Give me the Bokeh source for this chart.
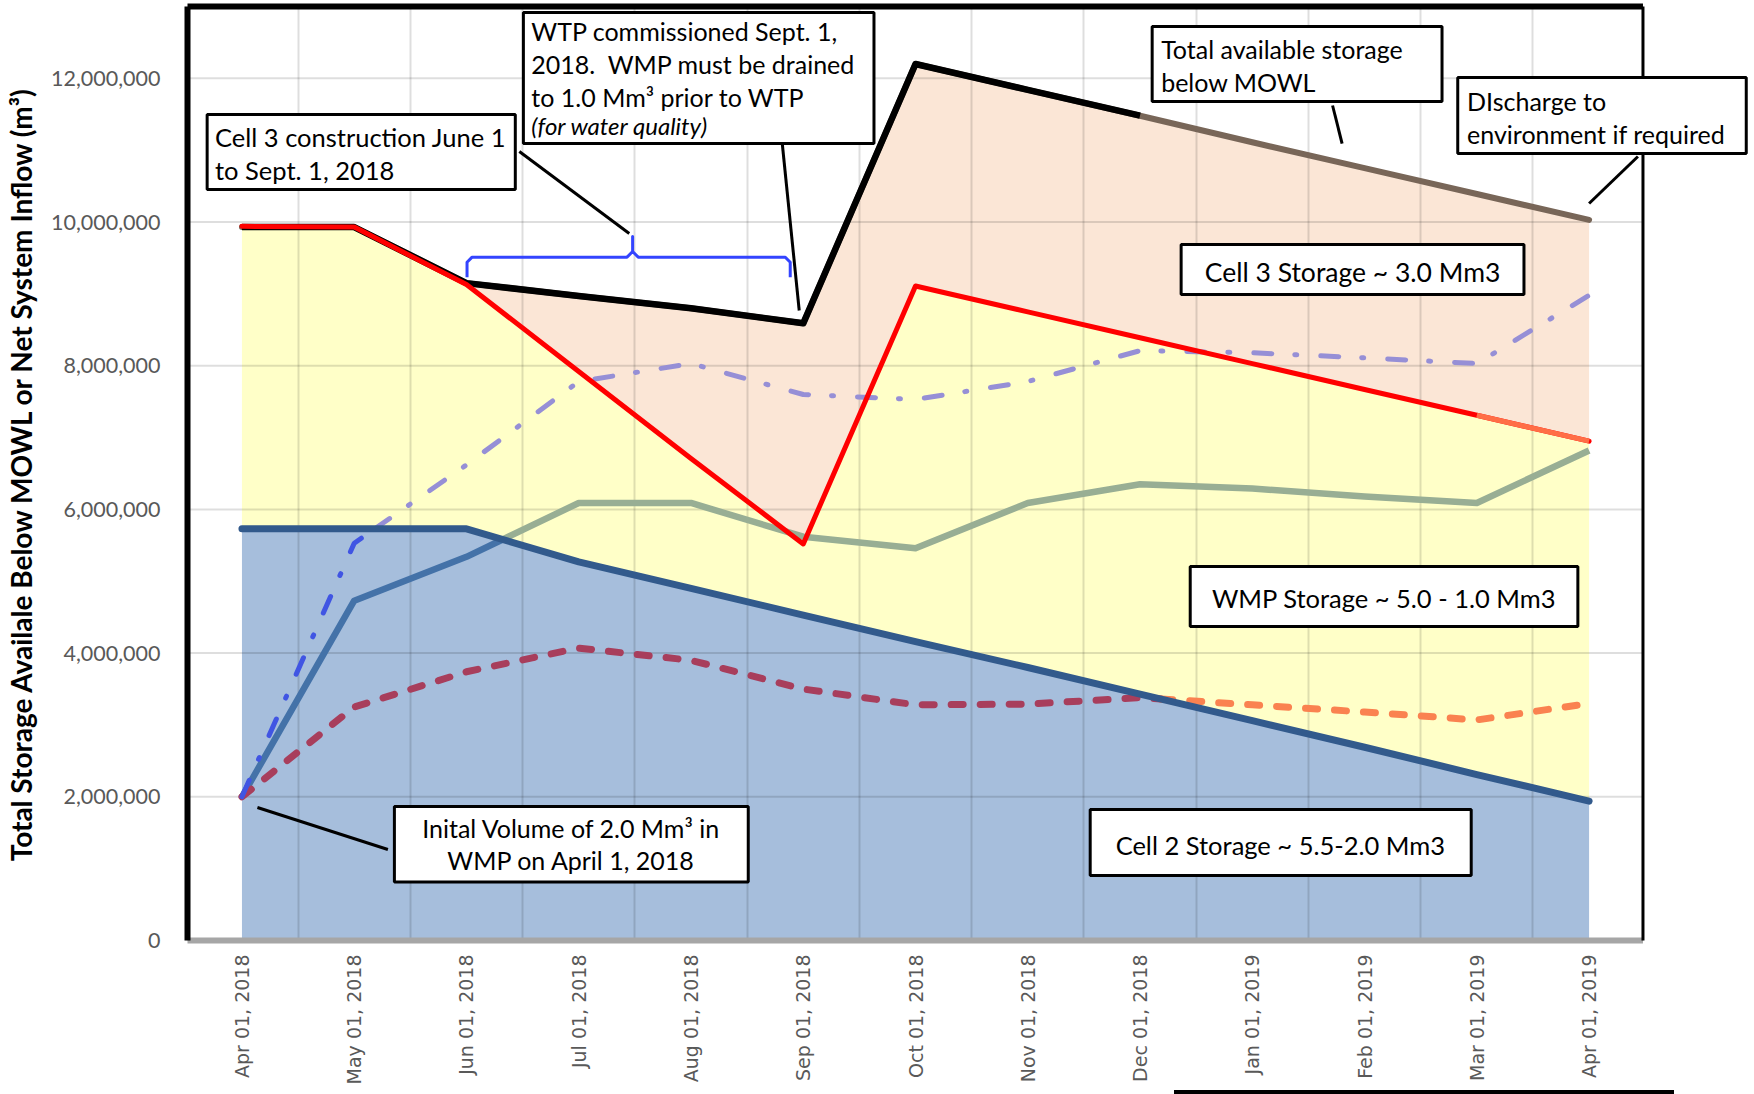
from bokeh.plotting import figure
from bokeh.models import Range1d, FixedTicker, NumeralTickFormatter, BoxAnnotation, Label, Div
from bokeh.layouts import column
from bokeh.embed import file_html
from bokeh.resources import INLINE

# ---------------- data (values in m3) ----------------
months = ["Apr 01, 2018", "May 01, 2018", "Jun 01, 2018", "Jul 01, 2018", "Aug 01, 2018",
          "Sep 01, 2018", "Oct 01, 2018", "Nov 01, 2018", "Dec 01, 2018", "Jan 01, 2019",
          "Feb 01, 2019", "Mar 01, 2019", "Apr 01, 2019"]
total_storage = [9.93e6, 9.93e6, 9.15e6, 8.97e6, 8.80e6, 8.59e6, 12.20e6, 11.84e6, 11.48e6,
                 11.11e6, 10.75e6, 10.39e6, 10.03e6]
wmp_top = [9.94e6, 9.93e6, 9.13e6, 7.92e6, 6.71e6, 5.52e6, 9.11e6, 8.75e6, 8.39e6,
           8.03e6, 7.67e6, 7.31e6, 6.95e6]
cell2_top = [5.73e6, 5.73e6, 5.73e6, 5.27e6, 4.90e6, 4.53e6, 4.16e6, 3.80e6, 3.43e6,
             3.06e6, 2.69e6, 2.31e6, 1.94e6]
wmp_volume = [2.00e6, 4.73e6, 5.34e6, 6.09e6, 6.09e6, 5.62e6, 5.46e6, 6.09e6, 6.35e6,
              6.29e6, 6.18e6, 6.09e6, 6.82e6]
net_inflow_a = [2.00e6, 5.53e6, 6.62e6, 7.78e6, 8.03e6, 7.60e6, 7.53e6, 7.78e6, 8.21e6,
                8.18e6, 8.11e6, 8.03e6, 8.98e6]
net_inflow_b = [2.00e6, 3.25e6, 3.74e6, 4.07e6, 3.90e6, 3.50e6, 3.28e6, 3.29e6, 3.38e6,
                3.28e6, 3.18e6, 3.07e6, 3.30e6]
y_ticks = [0, 2e6, 4e6, 6e6, 8e6, 10e6, 12e6]

x = list(range(len(months)))

FONT = "Lato"

# plot area limits (the frame is widened to the right so the callout box can overhang)
X_LO, X_HI, Y_HI = -0.485, 12.48, 13.0e6

p = figure(width=1750, height=1090, x_range=Range1d(X_LO, 13.42), y_range=Range1d(0, Y_HI),
           output_backend="svg", toolbar_location=None,
           min_border_left=186, min_border_right=2, min_border_top=6, min_border_bottom=150)
p.background_fill_color = "white"
p.border_fill_color = "white"
p.outline_line_color = None

# grids (drawn over areas, under lines)
p.ygrid.visible = False
p.xgrid.ticker = FixedTicker(ticks=[i + 0.5 for i in range(12)])
p.xgrid.grid_line_color = "black"
p.xgrid.grid_line_alpha = 0.13
p.xgrid.grid_line_width = 2
n_t = len(y_ticks)
p.segment(x0=[X_LO] * n_t, y0=y_ticks, x1=[X_HI] * n_t, y1=y_ticks, line_color="black",
          line_alpha=0.13, line_width=2, level="underlay")

# axes
p.yaxis.ticker = FixedTicker(ticks=y_ticks)
p.yaxis.formatter = NumeralTickFormatter(format="0,0")
p.xaxis.ticker = FixedTicker(ticks=x)
p.xaxis.major_label_overrides = {i: m for i, m in enumerate(months)}
p.xaxis.major_label_orientation = 1.5707963
for ax in (p.xaxis, p.yaxis):
    ax.axis_line_color = None
    ax.major_tick_line_color = None
    ax.minor_tick_line_color = None
    ax.major_label_text_color = "#595959"
p.yaxis.major_label_text_font = FONT
p.yaxis.major_label_text_font_size = "21.5px"
p.yaxis.major_label_standoff = 21
p.xaxis.major_label_text_font = "DejaVu Sans"
p.xaxis.major_label_text_font_size = "19px"
p.xaxis.major_label_standoff = 8
p.yaxis.axis_label = "Total Storage Availale Below MOWL or Net System Inflow (m\u00b3)"
p.yaxis.axis_label_text_font = FONT
p.yaxis.axis_label_text_font_style = "bold"
p.yaxis.axis_label_text_font_size = "28px"
p.yaxis.axis_label_text_color = "black"
p.yaxis.axis_label_standoff = 10

# ---------------- stacked areas ----------------
zeros = [0] * len(x)
p.varea(x=x, y1=zeros, y2=cell2_top, fill_color="#a6bedc", level="image")
p.varea(x=x, y1=cell2_top, y2=wmp_top, fill_color="#ffffc8", level="image")
p.varea(x=x, y1=wmp_top, y2=total_storage, fill_color="#fbe6d6", level="image")


def split(xs, ys, bs):
    """Split a polyline into pieces lying below / above a boundary polyline."""
    pieces = {True: [], False: []}
    cur_state = None
    cur = None
    for i in range(len(xs) - 1):
        x0, x1, y0, y1 = xs[i], xs[i + 1], ys[i], ys[i + 1]
        d0, d1 = y0 - bs[i], y1 - bs[i + 1]
        segs = []
        if d0 * d1 < 0:
            t = d0 / (d0 - d1)
            xc, yc = x0 + t * (x1 - x0), y0 + t * (y1 - y0)
            segs.append(((x0, y0), (xc, yc), d0 < 0))
            segs.append(((xc, yc), (x1, y1), d1 < 0))
        else:
            segs.append(((x0, y0), (x1, y1), (d0 + d1) < 0))
        for a, b, st in segs:
            if st != cur_state:
                if cur is not None:
                    pieces[cur_state].append(cur)
                cur = [[a[0], b[0]], [a[1], b[1]]]
                cur_state = st
            else:
                cur[0].append(b[0])
                cur[1].append(b[1])
    if cur is not None:
        pieces[cur_state].append(cur)
    return pieces


def draw_split(ys, col_in, col_out, **kw):
    pcs = split(x, ys, cell2_top)
    for st, col in ((True, col_in), (False, col_out)):
        if pcs[st]:
            p.multi_line(xs=[c[0] for c in pcs[st]], ys=[c[1] for c in pcs[st]],
                         line_color=col, **kw)


# ---------------- lines ----------------
draw_split(wmp_volume, "#4472a8", "#98ae94", line_width=6.5, line_join="round")
draw_split(net_inflow_b, "#a83e5c", "#fa8250", line_width=7, line_dash="12 17", line_cap="round")
draw_split(net_inflow_a, "#4055e3", "#968fd6", line_width=5, line_dash="18 23 2 24", line_cap="round")

p.line(x, cell2_top, line_color="#325a8c", line_width=7, line_cap="round", line_join="round")
p.line(x, total_storage, line_color="#786658", line_width=6, line_cap="round", line_join="round")
p.line(x[:9], total_storage[:9], line_color="black", line_width=6.5, line_join="round")
p.line(x, wmp_top, line_color="#ff0000", line_width=5, line_cap="round", line_join="round")
p.line(x[11:], wmp_top[11:], line_color="#ff6e46", line_width=5, line_join="round")

# ---------------- plot-area border ----------------
p.segment(x0=[X_LO], y0=[0], x1=[X_HI], y1=[0], line_color="#a6a6a6", line_width=6, level="overlay")
p.segment(x0=[X_LO, X_LO, X_HI], y0=[0, Y_HI, 0], x1=[X_LO, X_HI, X_HI], y1=[Y_HI, Y_HI, Y_HI],
          line_color="black", line_width=[6, 6, 3], level="overlay")

# ---------------- annotations ----------------
# blue brace over construction period
brace_x = [2.005, 2.005, 2.05, 3.43, 3.48, 3.48, 3.48, 3.53, 4.84, 4.884, 4.884]
brace_y = [9.232e6, 9.44e6, 9.511e6, 9.511e6, 9.59e6, 9.797e6, 9.59e6, 9.511e6, 9.511e6, 9.44e6, 9.232e6]
p.line(brace_x, brace_y, line_color="#3344ff", line_width=3, line_join="round")

# leader lines
lead_x0 = [2.471, 4.813, 9.715, 12.435, 0.138]
lead_y0 = [10.982e6, 11.093e6, 11.622e6, 10.912e6, 1.851e6]
lead_x1 = [3.45, 4.964, 9.80, 12.0, 1.30]
lead_y1 = [9.84e6, 8.769e6, 11.093e6, 10.258e6, 1.267e6]
p.segment(x0=lead_x0, y0=lead_y0, x1=lead_x1, y1=lead_y1, line_color="black", line_width=3)

boxes = [  # left, right, top, bottom
    (-0.31, 2.435, 11.497e6, 10.453e6),
    (2.507, 5.63, 12.916e6, 11.093e6),
    (8.108, 10.69, 12.722e6, 11.678e6),
    (10.83, 13.40, 12.012e6, 10.954e6),
    (8.366, 11.42, 9.687e6, 8.991e6),
    (8.447, 11.90, 5.206e6, 4.370e6),
    (7.556, 10.95, 1.823e6, 0.905e6),
    (1.358, 4.51, 1.865e6, 0.814e6),
]
for l, r, t, b in boxes:
    p.add_layout(BoxAnnotation(left=l, right=r, top=t, bottom=b, fill_color="white", fill_alpha=1,
                               line_color="black", line_width=3, line_alpha=1, level="overlay"))

texts = [  # x, y, text, align, size, style
    (-0.240, 11.177e6, "Cell 3 construction June 1", "left", "25.5px", "normal"),
    (-0.240, 10.731e6, "to Sept. 1, 2018", "left", "25.5px", "normal"),
    (2.578, 12.662e6, "WTP commissioned Sept. 1,", "left", "25px", "normal"),
    (2.578, 12.197e6, "2018.\u00a0 WMP must be drained", "left", "25px", "normal"),
    (2.578, 11.743e6, "to 1.0 Mm\u00b3 prior to WTP", "left", "25px", "normal"),
    (2.578, 11.339e6, "(for water quality)", "left", "24px", "italic"),
    (8.188, 12.402e6, "Total available storage", "left", "25px", "normal"),
    (8.188, 11.956e6, "below MOWL", "left", "25px", "normal"),
    (10.913, 11.687e6, "DIscharge to", "left", "25px", "normal"),
    (10.913, 11.232e6, "environment if required", "left", "25px", "normal"),
    (9.893, 9.311e6, "Cell 3 Storage ~ 3.0 Mm3", "center", "26.5px", "normal"),
    (10.174, 4.774e6, "WMP Storage ~ 5.0 - 1.0 Mm3", "center", "25.5px", "normal"),
    (9.25, 1.336e6, "Cell 2 Storage ~ 5.5-2.0 Mm3", "center", "25.5px", "normal"),
    (2.934, 1.559e6, "Inital Volume of 2.0 Mm\u00b3 in", "center", "25px", "normal"),
    (2.934, 1.127e6, "WMP on April 1, 2018", "center", "25px", "normal"),
]
for tx, ty, tt, al, sz, st in texts:
    p.add_layout(Label(x=tx, y=ty, text=tt, text_align=al, text_baseline="alphabetic",
                       text_font=FONT, text_font_size=sz, text_font_style=st,
                       text_color="black", level="overlay"))

# top edge of the (cropped) legend frame below the chart
legend_edge = Div(text="", width=500, height=4, margin=(0, 0, 0, 1174),
                  styles={"background-color": "black"})

layout = column(p, legend_edge, spacing=0)
open("out.html", "w").write(file_html(layout, INLINE))
